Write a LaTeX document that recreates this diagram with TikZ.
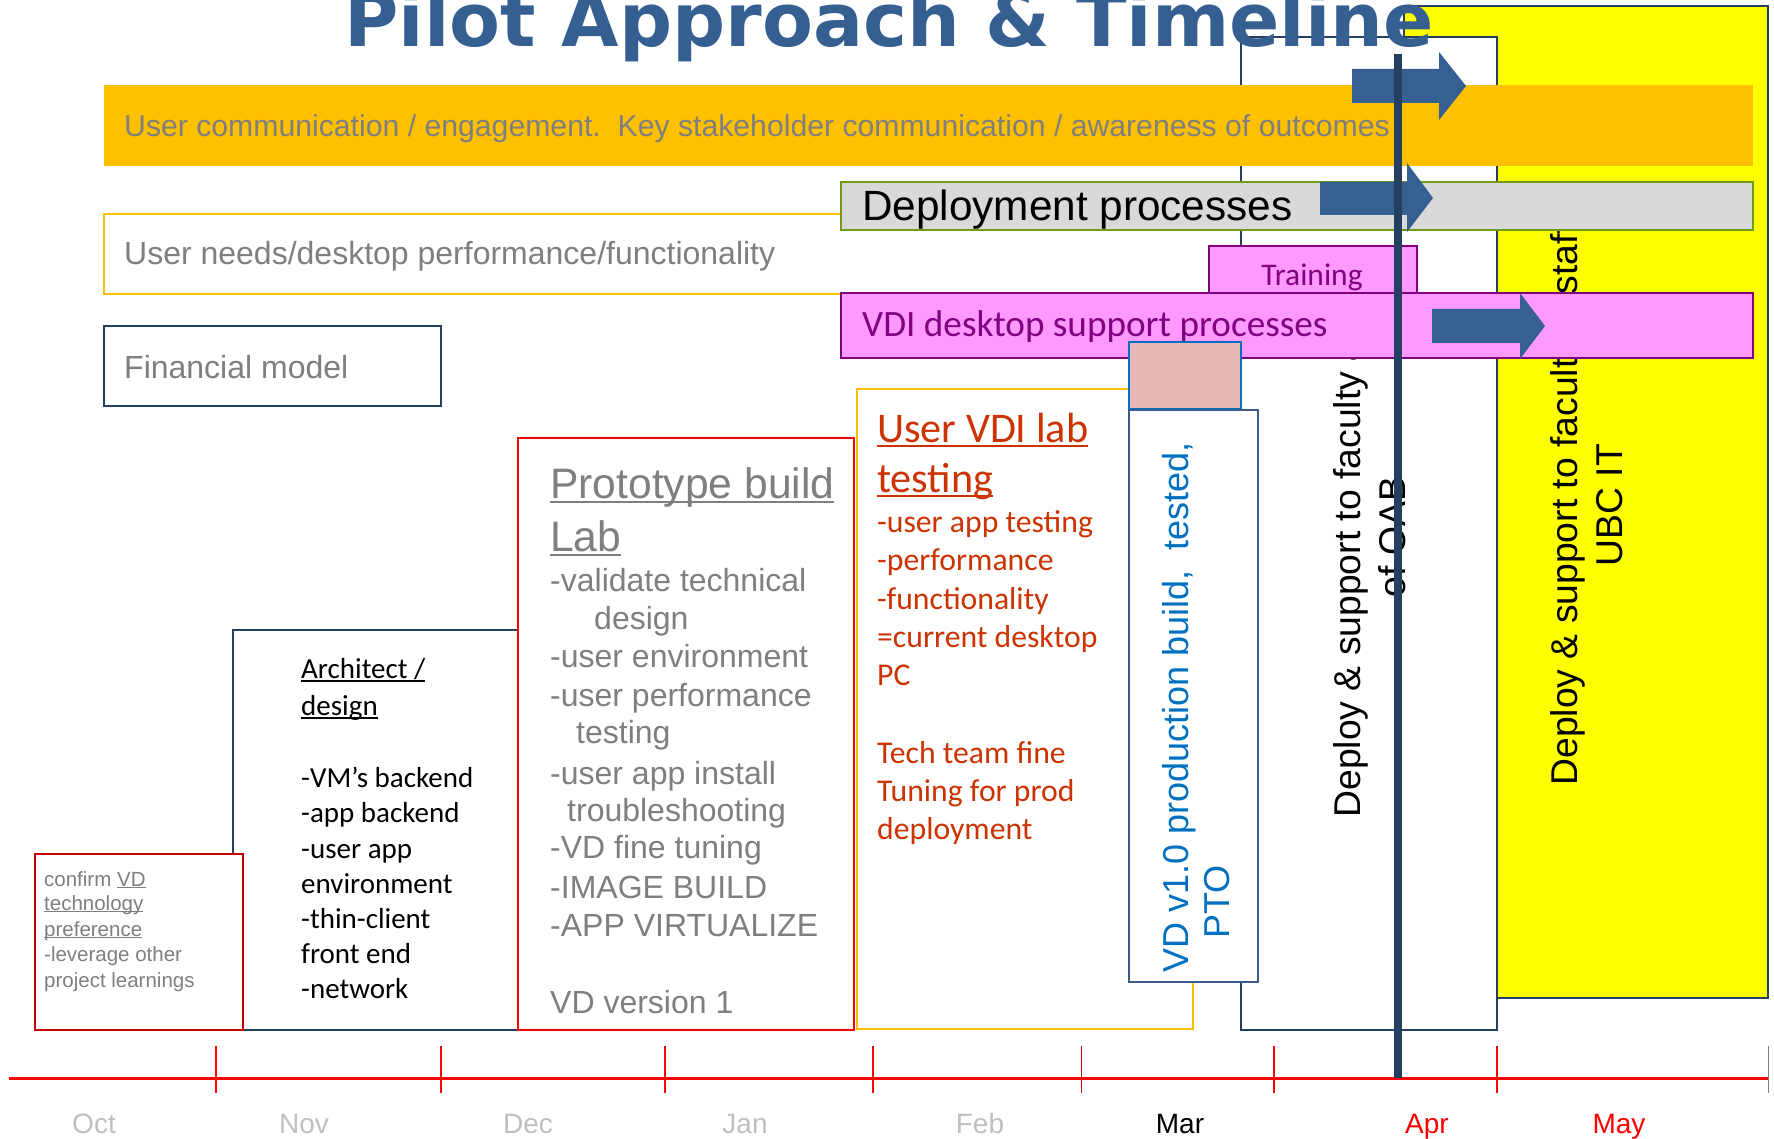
\documentclass[tikz,border=0pt]{standalone}
\usepackage{fontspec}
\usepackage{graphicx}
\setmainfont{Liberation Sans}
\newfontfamily\calfont{Carlito}
\newfontfamily\ttlfont{DejaVu Sans}
\definecolor{yellowF}{HTML}{FFFF00}
\definecolor{orangeF}{HTML}{FFC000}
\definecolor{grayband}{HTML}{D9D9D9}
\definecolor{greenB}{HTML}{709C14}
\definecolor{pinkF}{HTML}{FF99FF}
\definecolor{purp}{HTML}{800080}
\definecolor{navy}{HTML}{243F60}
\definecolor{arrowblue}{HTML}{376092}
\definecolor{titleblue}{HTML}{365F91}
\definecolor{tgray}{HTML}{7F7F7F}
\definecolor{mgray}{HTML}{BFBFBF}
\definecolor{redtxt}{HTML}{CC3300}
\definecolor{vdblue}{HTML}{0070C0}
\definecolor{vdborder}{HTML}{385D8A}
\definecolor{rosy}{HTML}{E6B9B8}
\definecolor{redbox}{HTML}{FF0000}
\definecolor{darkred}{HTML}{C80000}
\newcommand\myul[3]{\setbox0\hbox{#3}\rlap{\rule[-#1]{\wd0}{#2}}\box0}
\tikzset{
  lbl/.style={inner sep=0pt, anchor=base west},
  grayA/.style={lbl, text=tgray, font=\fontsize{32}{38}\selectfont},
  confA/.style={lbl, text=tgray, font=\fontsize{20.5}{25}\selectfont},
  archC/.style={lbl, text=black, font=\calfont\fontsize{29}{35}\selectfont},
  protoA/.style={lbl, text=tgray, font=\fontsize{32}{38}\selectfont},
  protoH/.style={lbl, text=tgray, font=\fontsize{42.6}{50}\selectfont},
  vdiC/.style={lbl, text=redtxt, font=\calfont\fontsize{31.7}{38}\selectfont},
  vdiH/.style={lbl, text=redtxt, font=\calfont\fontsize{42.2}{50}\selectfont},
  rotA/.style={inner sep=0pt, anchor=base, rotate=90, font=\fontsize{37.3}{44}\selectfont},
  month/.style={inner sep=0pt, anchor=base, font=\fontsize{28}{32}\selectfont},
  tick/.style={draw=redbox, line width=1.5pt},
  bluearrow/.style={fill=arrowblue},
}
\begin{document}
\begin{tikzpicture}[x=1pt,y=-1pt]
\useasboundingbox (0,0) rectangle (1774,1139);
% yellow box
\filldraw[fill=yellowF, draw=navy, line width=2pt] (1404,6) rectangle (1768,998);
% user needs box
\filldraw[fill=white, draw=orangeF, line width=2pt] (104,214) rectangle (1241,294);
% white deploy box
\filldraw[fill=white, draw=navy, line width=2pt] (1241,37) rectangle (1497,1030);
% rotated texts
\node[rotA] (dep1) at (1360,537) {Deploy \& support to faculty \& staff};
\node[rotA] (dep2) at (1405,537) {of OAB};
\node[rotA] (ubc1) at (1577,505) {Deploy \& support to faculty \& staff};
\node[rotA] (ubc2) at (1622,505) {UBC IT};
% orange band
\fill[orangeF] (104,85) rectangle (1753,166);
\node[lbl, text=tgray, font=\fontsize{30.2}{36}\selectfont] (comm) at (124,137) {User communication / engagement.\ \ Key stakeholder communication / awareness of outcomes};
% gray band
\filldraw[fill=grayband, draw=greenB, line width=2pt] (841,182) rectangle (1753,230);
\node[lbl, font=\fontsize{42.3}{48}\selectfont] (deploy) at (862,221) {Deployment processes};
% training
\filldraw[fill=pinkF, draw=purp, line width=2pt] (1209,246) rectangle (1417,293);
\node[inner sep=0pt, anchor=base, text=purp, font=\calfont\fontsize{31.5}{36}\selectfont] (train) at (1312,286) {Training};
% pink band
\filldraw[fill=pinkF, draw=purp, line width=2pt] (841,293) rectangle (1753,358);
\node[lbl, text=purp, font=\calfont\fontsize{37.2}{42}\selectfont] (vdisup) at (862,337) {VDI desktop support processes};
% user needs text
\node[grayA] (needs) at (124,265) {User needs/desktop performance/functionality};
% financial model
\filldraw[fill=white, draw=navy, line width=2pt] (104,326) rectangle (441,406);
\node[grayA] (fin) at (124,378) {Financial model};
% architect box
\filldraw[fill=white, draw=navy, line width=2pt] (233,630) rectangle (522,1030);
% prototype box
\filldraw[fill=white, draw=redbox, line width=2pt] (518,438) rectangle (854,1030);
% confirm box
\filldraw[fill=white, draw=darkred, line width=2pt] (35,854) rectangle (243,1030);
% user VDI lab box
\filldraw[fill=white, draw=orangeF, line width=2pt] (857,389) rectangle (1193,1029);
% rosy box
\filldraw[fill=rosy, draw=vdblue, line width=2pt] (1129,342) rectangle (1241,409);
% VD box
\filldraw[fill=white, draw=vdborder, line width=2pt] (1129,410) rectangle (1258,982);
\node[inner sep=0pt, anchor=base west, rotate=90, text=vdblue, font=\fontsize{36}{42}\selectfont] (vd1) at (1188,973) {VD v1.0 production build,\ \ tested,};
\node[inner sep=0pt, anchor=base west, rotate=90, text=vdblue, font=\fontsize{36}{42}\selectfont] (vd2) at (1229,939) {PTO};
% confirm text
\node[confA] (c1) at (44,886) {confirm \myul{2pt}{1pt}{VD}};
\node[confA] (c2) at (44,910) {\myul{2pt}{1pt}{technology}};
\node[confA] (c3) at (44,936) {\myul{2pt}{1pt}{preference}};
\node[confA] (c4) at (44,961) {-leverage other};
\node[confA] (c5) at (44,987) {project learnings};
% architect text
\node[archC] (a1) at (301,678) {\myul{4pt}{2pt}{Architect /}};
\node[archC] (a2) at (301,715) {\myul{4pt}{2pt}{design}};
\node[archC] (a3) at (301,787) {-VM’s backend};
\node[archC] (a4) at (301,822) {-app backend};
\node[archC] (a5) at (301,858) {-user app};
\node[archC] (a6) at (301,893) {environment};
\node[archC] (a7) at (301,928) {-thin-client};
\node[archC] (a8) at (301,963) {front end};
\node[archC] (a9) at (301,998) {-network};
% prototype text
\node[protoH] (p1) at (550,498) {\myul{5pt}{2.5pt}{Prototype build}};
\node[protoH] (p2) at (550,551) {\myul{5pt}{2.5pt}{Lab}};
\node[protoA] (p3) at (550,591) {-validate technical};
\node[protoA] (p4) at (594,629) {design};
\node[protoA] (p5) at (550,667) {-user environment};
\node[protoA] (p6) at (550,706) {-user performance};
\node[protoA] (p7) at (576,743) {testing};
\node[protoA] (p8) at (550,784) {-user app install};
\node[protoA] (p9) at (567,821) {troubleshooting};
\node[protoA] (p10) at (550,858) {-VD fine tuning};
\node[protoA] (p11) at (550,898) {-IMAGE BUILD};
\node[protoA] (p12) at (550,936) {-APP VIRTUALIZE};
\node[protoA] (p13) at (550,1013) {VD version 1};
% user VDI text
\node[vdiH] (u1) at (877,442) {\myul{5pt}{2.5pt}{User VDI lab}};
\node[vdiH] (u2) at (877,492) {\myul{5pt}{2.5pt}{testing}};
\node[vdiC] (u3) at (877,532) {-user app testing};
\node[vdiC] (u4) at (877,570) {-performance};
\node[vdiC] (u5) at (877,609) {-functionality};
\node[vdiC] (u6) at (877,647) {=current desktop};
\node[vdiC] (u7) at (877,685) {PC};
\node[vdiC] (u8) at (877,763) {Tech team fine};
\node[vdiC] (u9) at (877,801) {Tuning for prod};
\node[vdiC] (u10) at (877,839) {deployment};
% blue block arrows
\fill[bluearrow] (1352,69) -- (1439,69) -- (1439,52) -- (1466,86) -- (1439,120) -- (1439,103) -- (1352,103) -- cycle;
\fill[bluearrow] (1320,182) -- (1407,182) -- (1407,163) -- (1433,198) -- (1407,232) -- (1407,215) -- (1320,215) -- cycle;
\fill[bluearrow] (1432,309) -- (1520,309) -- (1520,293) -- (1545,326) -- (1520,359) -- (1520,343) -- (1432,343) -- cycle;
% timeline
\coordinate (tlA) at (9,1078);
\coordinate (tlB) at (1768,1078);
\draw[redbox, line width=3pt] (tlA) -- (tlB);
\foreach \tx in {216,441,665,873,1274,1497} {\draw[tick] (\tx,1046) -- (\tx,1093);}
\draw[draw=darkred, line width=1pt] (1081,1046) -- (1081,1093);
\draw[draw=gray, line width=1pt] (1768,1046) -- (1768,1093);
% now line
\coordinate (nowT) at (1398,54);
\coordinate (nowB) at (1398,1078);
\draw[navy, line width=8pt] (nowT) -- (nowB);
% months
\node[month, text=mgray] (oct) at (94,1133) {Oct};
\node[month, text=mgray] (nov) at (304,1133) {Nov};
\node[month, text=mgray] (dec) at (528,1133) {Dec};
\node[month, text=mgray] (jan) at (745,1133) {Jan};
\node[month, text=mgray] (feb) at (980,1133) {Feb};
\node[month, text=black] (mar) at (1180,1133) {Mar};
\node[month, text=redbox] (apr) at (1427,1133) {Apr};
\node[month, text=redbox] (may) at (1619,1133) {May};
% title
\node[lbl, text=titleblue, font=\ttlfont\bfseries\fontsize{74.2}{80}\selectfont] (title) at (344,47) {Pilot Approach \& Timeline};
\end{tikzpicture}
\end{document}
